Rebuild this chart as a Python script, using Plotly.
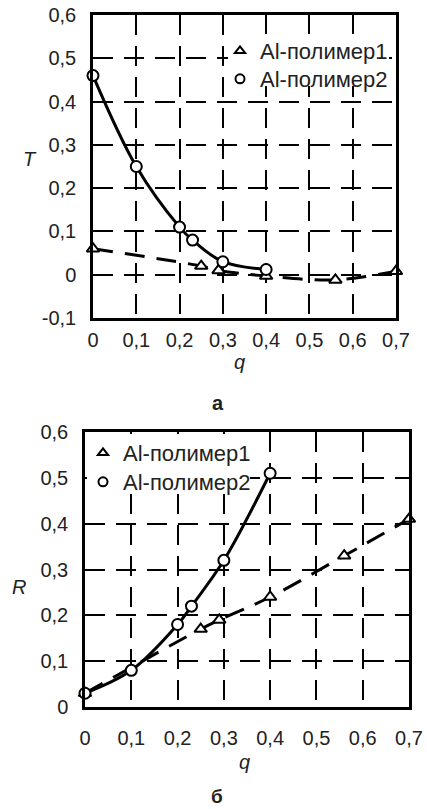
import plotly.graph_objects as go

# ---------------- data ----------------
series_names = ["Al-полимер1", "Al-полимер2"]

# panel а : T(q)
q_T1 = [0.0, 0.25, 0.29, 0.40, 0.56, 0.70]
T1 = [0.06, 0.02, 0.01, -0.003, -0.012, 0.008]
q_T2 = [0.0, 0.10, 0.20, 0.23, 0.30, 0.40]
T2 = [0.46, 0.25, 0.11, 0.08, 0.03, 0.012]

# panel б : R(q)
q_R1 = [0.0, 0.25, 0.29, 0.40, 0.56, 0.70]
R1 = [0.03, 0.17, 0.19, 0.24, 0.33, 0.41]
q_R2 = [0.0, 0.10, 0.20, 0.23, 0.30, 0.40]
R2 = [0.03, 0.08, 0.18, 0.22, 0.32, 0.51]

q_ticks = [0.0, 0.1, 0.2, 0.3, 0.4, 0.5, 0.6, 0.7]
q_tick_labels = ["0", "0,1", "0,2", "0,3", "0,4", "0,5", "0,6", "0,7"]
T_ticks = [-0.1, 0.0, 0.1, 0.2, 0.3, 0.4, 0.5, 0.6]
T_tick_labels = ["-0,1", "0", "0,1", "0,2", "0,3", "0,4", "0,5", "0,6"]
R_ticks = [0.0, 0.1, 0.2, 0.3, 0.4, 0.5, 0.6]
R_tick_labels = ["0", "0,1", "0,2", "0,3", "0,4", "0,5", "0,6"]

# ---------------- layout helpers ----------------
W, H = 427, 809
def px(p):
    return p / W
def py(p):
    return 1 - p / H

FONT = "Liberation Sans, Arial, sans-serif"
TXT = "#222222"

# plot-area pixel boxes (left, top, right, bottom)
BOX_A = (93, 15, 396, 318)
BOX_B = (85, 432, 409, 707)

fig = go.Figure()

def add_panel(xa, ya, qa, va, qb, vb, legends):
    # fitted lines
    fig.add_trace(go.Scatter(x=qa, y=va, mode="lines", xaxis=xa, yaxis=ya,
                             line=dict(color="black", width=3, dash="20px,12px",
                                       shape="spline", smoothing=1),
                             showlegend=False, hoverinfo="skip"))
    fig.add_trace(go.Scatter(x=qb, y=vb, mode="lines", xaxis=xa, yaxis=ya,
                             line=dict(color="black", width=3,
                                       shape="spline", smoothing=1),
                             showlegend=False, hoverinfo="skip"))
    # markers
    fig.add_trace(go.Scatter(x=qa, y=va, mode="markers", xaxis=xa, yaxis=ya,
                             marker=dict(symbol="triangle-up", size=11, color="white",
                                         line=dict(color="black", width=2)),
                             cliponaxis=False, showlegend=False))
    fig.add_trace(go.Scatter(x=qb, y=vb, mode="markers", xaxis=xa, yaxis=ya,
                             marker=dict(symbol="circle", size=11, color="white",
                                         line=dict(color="black", width=2)),
                             cliponaxis=False, showlegend=False))
    # legend entries (one legend box per row so rows can be placed exactly)
    fig.add_trace(go.Scatter(x=[None], y=[None], mode="markers", xaxis=xa, yaxis=ya,
                             name=series_names[0], legend=legends[0],
                             marker=dict(symbol="triangle-up", size=9, color="white",
                                         line=dict(color="black", width=2))))
    fig.add_trace(go.Scatter(x=[None], y=[None], mode="markers", xaxis=xa, yaxis=ya,
                             name=series_names[1], legend=legends[1],
                             marker=dict(symbol="circle", size=9, color="white",
                                         line=dict(color="black", width=2))))

add_panel("x", "y", q_T1, T1, q_T2, T2, ["legend", "legend2"])
add_panel("x2", "y2", q_R1, R1, q_R2, R2, ["legend3", "legend4"])

grid = dict(showgrid=True, gridcolor="black", gridwidth=2, griddash="20px,11px",
            showline=True, linecolor="black", linewidth=2.5, mirror=True,
            zeroline=False, ticks="", automargin=False,
            tickfont=dict(family=FONT, size=20, color=TXT))

def leg(x, top):
    return dict(x=px(x), y=py(top), xanchor="left", yanchor="top",
                bgcolor="rgba(0,0,0,0)", borderwidth=0,
                font=dict(family=FONT, size=22, color=TXT))

# white patches (paper coords, above grid) masking the grid behind each legend
def legend_patch(x0, y0, x1, y1):
    return dict(type="rect", xref="paper", yref="paper", layer="above",
                x0=px(x0), x1=px(x1), y0=py(y1), y1=py(y0),
                fillcolor="white", line=dict(width=0))

fig.update_layout(
    width=W, height=H,
    margin=dict(l=0, r=0, t=0, b=0, autoexpand=False),
    paper_bgcolor="white", plot_bgcolor="white",
    font=dict(family=FONT, color=TXT),
    xaxis=dict(domain=[px(BOX_A[0]), px(BOX_A[2])], range=[0, 0.7], anchor="y",
               tickmode="array", tickvals=q_ticks, ticktext=q_tick_labels,
               ticklabelstandoff=2, **grid),
    yaxis=dict(domain=[py(BOX_A[3]), py(BOX_A[1])], range=[-0.1, 0.6], anchor="x",
               tickmode="array", tickvals=T_ticks, ticktext=T_tick_labels,
               ticklabelstandoff=10, **grid),
    xaxis2=dict(domain=[px(BOX_B[0]), px(BOX_B[2])], range=[0, 0.7], anchor="y2",
                tickmode="array", tickvals=q_ticks, ticktext=q_tick_labels,
                ticklabelstandoff=11, **grid),
    yaxis2=dict(domain=[py(BOX_B[3]), py(BOX_B[1])], range=[0, 0.6], anchor="x2",
                tickmode="array", tickvals=R_ticks, ticktext=R_tick_labels,
                ticklabelstandoff=10, **grid),
    legend=leg(220, 30),
    legend2=leg(220, 58),
    legend3=leg(83, 432),
    legend4=leg(83, 461),
    shapes=[legend_patch(228, 34, 389, 86),
            legend_patch(87, 434, 250, 493)],
)

def label(text, x, y, size=20, italic=True, bold=False):
    t = text
    if bold:
        t = "<b>" + t + "</b>"
    if italic:
        t = "<i>" + t + "</i>"
    fig.add_annotation(text=t, x=px(x), y=py(y), xref="paper", yref="paper",
                       showarrow=False, xanchor="center", yanchor="middle",
                       font=dict(family=FONT, size=size, color=TXT))

label("T", 30, 159)
label("q", 240, 362)
label("R", 19, 587)
label("q", 244, 762)
label("а", 218, 403, size=20, italic=False, bold=True)
label("б", 217, 796, size=19, italic=False, bold=True)

fig.write_html("out.html",
               config={"displayModeBar": False},
               post_script="document.body.style.margin='0';"
                           "document.body.style.overflow='hidden';")
